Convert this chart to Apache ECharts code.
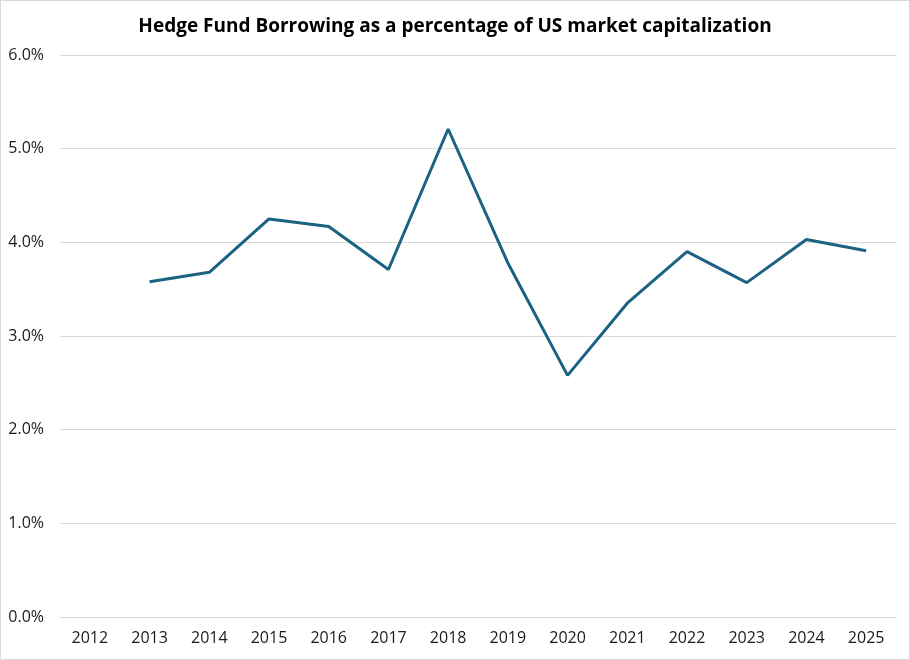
<!DOCTYPE html>
<html>
<head>
<meta charset="utf-8">
<script src="https://cdn.jsdelivr.net/npm/echarts@6/dist/echarts.min.js"></script>
<style>
  html, body { margin: 0; padding: 0; background: #fff; }
  #chart { width: 910px; height: 660px; box-sizing: border-box; border: 1px solid #d9d9d9; }
</style>
</head>
<body>
<div id="chart"></div>
<script>
// years on the x axis
var years = ['2012','2013','2014','2015','2016','2017','2018','2019','2020','2021','2022','2023','2024','2025'];
// hedge fund borrowing, % of US market cap (2012 has no value)
var borrowing = [null, 3.58, 3.68, 4.25, 4.17, 3.71, 5.21, 3.78, 2.58, 3.35, 3.90, 3.57, 4.03, 3.91];

var myChart = echarts.init(document.getElementById('chart'));
myChart.setOption({
  animation: false,
  title: {
    text: 'Hedge Fund Borrowing as a percentage of US market capitalization',
    left: 'center',
    top: 11,
    textStyle: { fontFamily: 'Open Sans', fontSize: 19, fontWeight: 'bold', color: '#000' }
  },
  grid: { left: 59, right: 13, top: 54, bottom: 42 },
  xAxis: {
    type: 'category',
    data: years,
    boundaryGap: true,
    axisLine: { show: true, lineStyle: { color: '#d9d9d9', width: 1 } },
    axisTick: { show: false },
    axisLabel: { fontFamily: 'Open Sans', fontSize: 16, color: '#1a1a1a', margin: 13 }
  },
  yAxis: {
    type: 'value',
    min: 0,
    max: 6,
    interval: 1,
    axisLine: { show: false },
    axisTick: { show: false },
    splitLine: { lineStyle: { color: '#d9d9d9', width: 1 } },
    axisLabel: {
      fontFamily: 'Open Sans', fontSize: 16, color: '#1a1a1a', margin: 16,
      formatter: function (v) { return v.toFixed(1) + '%'; }
    }
  },
  series: [{
    name: 'Borrowing',
    type: 'line',
    data: borrowing,
    showSymbol: false,
    symbol: 'none',
    lineStyle: { color: '#1b6283', width: 3 },
    itemStyle: { color: '#1b6283' }
  }]
});
</script>
</body>
</html>
